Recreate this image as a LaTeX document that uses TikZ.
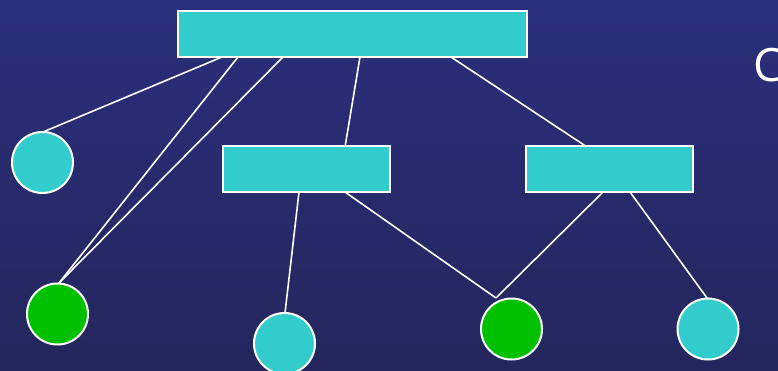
\documentclass[tikz,border=0pt]{standalone}
\usepackage{fontspec}
\setmainfont{Open Sans}
\definecolor{bgtop}{RGB}{42,47,124}
\definecolor{bgbot}{RGB}{36,38,92}
\definecolor{boxcyan}{RGB}{51,204,204}
\definecolor{leafgreen}{RGB}{0,192,0}
\begin{document}
\begin{tikzpicture}[x=1pt,y=-1pt,
  rectbox/.style={draw=white,line width=2pt,fill=boxcyan,minimum width=#1,minimum height=46pt,inner sep=0pt},
  cyancirc/.style={circle,draw=white,line width=2pt,fill=boxcyan,minimum size=61pt,inner sep=0pt},
  greencirc/.style={circle,draw=white,line width=2pt,fill=leafgreen,minimum size=61pt,inner sep=0pt},
  link/.style={draw=white,line width=1.6pt}]
\shade[top color=bgtop,bottom color=bgbot] (0,0) rectangle (778,371);
\useasboundingbox (0,0) rectangle (778,371);
% links first
\coordinate (t1) at (222,57);
\coordinate (t2) at (238,57);
\coordinate (t3) at (283,57);
\coordinate (t4) at (360,57);
\coordinate (t5) at (451,57);
\coordinate (l1) at (345,147);
\coordinate (l2) at (299,192);
\coordinate (l3) at (345,192);
\coordinate (r1) at (587,147);
\coordinate (r2) at (603,192);
\coordinate (r3) at (630,192);
\coordinate (c1t) at (43,132);
\coordinate (c2t) at (59,283);
\coordinate (c3t) at (285,313);
\coordinate (c4t) at (496,298);
\coordinate (c5t) at (707,298);
\draw[link] (t1) -- (c1t);
\draw[link] (t2) -- (c2t);
\draw[link] (t3) -- (c2t);
\draw[link] (t4) -- (l1);
\draw[link] (t5) -- (r1);
\draw[link] (l2) -- (c3t);
\draw[link] (l3) -- (c4t);
\draw[link] (r2) -- (c4t);
\draw[link] (r3) -- (c5t);
% nodes
\node[rectbox=349pt] (top) at (352.5,34) {};
\node[rectbox=167pt] (midl) at (306.5,169.5) {};
\node[rectbox=167pt] (midr) at (609.5,169.5) {};
\node[cyancirc] (c1) at (42.5,162.5) {};
\node[greencirc] (c2) at (57.5,314) {};
\node[cyancirc] (c3) at (284.5,343.5) {};
\node[greencirc] (c4) at (511.5,329) {};
\node[cyancirc] (c5) at (708,329) {};
\node[anchor=base west,inner sep=0pt,text=white,font=\fontsize{46}{50}\selectfont] (lbl) at (753,82) {C};
\end{tikzpicture}
\end{document}
